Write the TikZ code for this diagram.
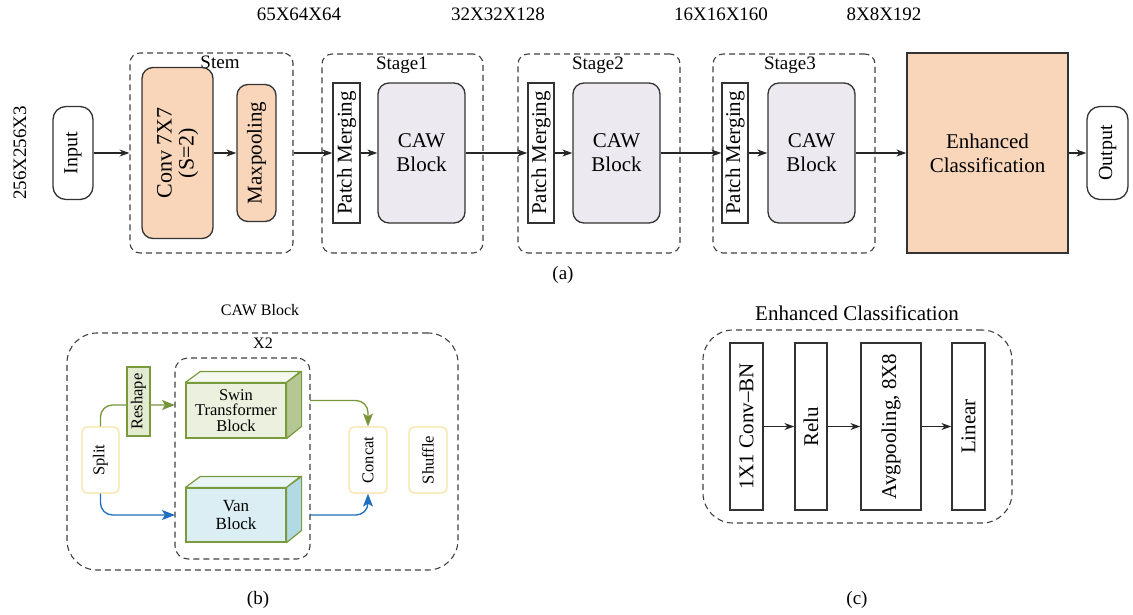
\documentclass[tikz,border=0pt]{standalone}
\usepackage{fontspec}
\setmainfont{Liberation Serif}
\usetikzlibrary{arrows.meta}
\definecolor{peach}{HTML}{F9D6BA}
\definecolor{lav}{HTML}{ECE9F1}
\definecolor{gborder}{HTML}{7A9A3E}
\definecolor{garrow}{HTML}{77963A}
\definecolor{barrow}{HTML}{1E6FBF}
\definecolor{swinfront}{HTML}{EBF1DE}
\definecolor{swintop}{HTML}{F4F8EE}
\definecolor{swinside}{HTML}{B5C793}
\definecolor{vanfront}{HTML}{DAEEF3}
\definecolor{vantop}{HTML}{EAF5F8}
\definecolor{vanside}{HTML}{B2DAE5}
\definecolor{ybord}{HTML}{F8E3A0}
\definecolor{reshfill}{HTML}{E3ECD1}
\begin{document}
\begin{tikzpicture}[x=1pt,y=-1pt,
  font=\fontsize{19}{22}\selectfont,
  bx/.style={draw=black!80, line width=1.3pt, inner sep=0pt, align=center, font=\fontsize{21}{24}\selectfont},
  rbx/.style={bx, rounded corners=11pt},
  grp/.style={draw=black!75, line width=1.1pt, dash pattern=on 6pt off 4pt, rounded corners=10pt, inner sep=0pt},
  arr/.style={-{Stealth[length=10pt,width=7pt]}, line width=1.1pt, draw=black!85},
  ybx/.style={draw=ybord, line width=1.2pt, fill=white, rounded corners=5pt, inner sep=0pt, font=\fontsize{16.5}{18}\selectfont},
  garr/.style={-{Stealth[length=13pt,width=10pt,inset=3pt]}, line width=1.3pt, draw=garrow, rounded corners=12pt},
  barr/.style={-{Stealth[length=13pt,width=10pt,inset=3pt]}, line width=1.3pt, draw=barrow, rounded corners=12pt},
  lbl/.style={inner sep=0pt}
]
\useasboundingbox (0,0) rectangle (1133,614);

% ---------- (a) ----------
\node[lbl] (dim0) at (20,153) {\rotatebox{90}{256X256X3}};
\node[lbl] (dim1) at (299,14) {65X64X64};
\node[lbl] (dim2) at (498,14) {32X32X128};
\node[lbl] (dim3) at (721,14) {16X16X160};
\node[lbl] (dim4) at (884,14) {8X8X192};

\node[rbx, rounded corners=13pt, minimum width=40pt, minimum height=93pt, font=\fontsize{20}{22}\selectfont] (input) at (73,153) {\rotatebox{90}{Input}};

\node[grp, minimum width=163pt, minimum height=200pt] (stem) at (211.5,153) {};
\node[lbl] (stemlbl) at (220,62) {Stem};
\node[rbx, fill=peach, minimum width=71pt, minimum height=171pt, font=\fontsize{22}{25}\selectfont] (conv) at (177.5,153) {\rotatebox{90}{\begin{tabular}{@{}c@{}}Conv 7X7\\[-3pt](S=2)\end{tabular}}};
\node[rbx, fill=peach, minimum width=39pt, minimum height=137pt] (maxp) at (256.5,153) {\rotatebox{90}{Maxpooling}};

\node[grp, minimum width=161pt, minimum height=199pt] (st1) at (402.5,153.5) {};
\node[lbl] (st1lbl) at (402,65) {Stage1};
\node[bx, minimum width=27pt, minimum height=140pt] (pm1) at (346.5,153) {\rotatebox{90}{Patch Merging}};
\node[rbx, fill=lav, minimum width=87pt, minimum height=140pt] (caw1) at (421.5,153) {CAW\\Block};

\node[grp, minimum width=162pt, minimum height=199pt] (st2) at (599,153.5) {};
\node[lbl] (st2lbl) at (598,65) {Stage2};
\node[bx, minimum width=26pt, minimum height=140pt] (pm2) at (541,153) {\rotatebox{90}{Patch Merging}};
\node[rbx, fill=lav, minimum width=87pt, minimum height=140pt] (caw2) at (616.5,153) {CAW\\Block};

\node[grp, minimum width=162pt, minimum height=199pt] (st3) at (794,153.5) {};
\node[lbl] (st3lbl) at (790,65) {Stage3};
\node[bx, minimum width=26pt, minimum height=140pt] (pm3) at (735,153) {\rotatebox{90}{Patch Merging}};
\node[rbx, fill=lav, minimum width=87pt, minimum height=140pt] (caw3) at (811.5,153) {CAW\\Block};

\node[bx, fill=peach, minimum width=161pt, minimum height=200pt] (enh) at (987.5,153) {Enhanced\\Classification};
\node[rbx, rounded corners=13pt, minimum width=41pt, minimum height=93pt, font=\fontsize{20}{22}\selectfont] (out) at (1107.5,153) {\rotatebox{90}{Output}};

\draw[arr] (input.east) -- (stem.west);
\draw[arr] (conv) -- (maxp);
\draw[arr] (stem.east) -- (pm1.west);
\draw[arr] (pm1) -- (caw1);
\draw[arr] (caw1) -- (pm2);
\draw[arr] (pm2) -- (caw2);
\draw[arr] (caw2) -- (pm3);
\draw[arr] (pm3) -- (caw3);
\draw[arr] (caw3) -- (enh);
\draw[arr] (enh) -- (out);

\node[lbl] (capa) at (563,275) {(a)};

% ---------- (b) ----------
\node[lbl, font=\fontsize{16}{18}\selectfont] (cawlbl) at (260,310) {CAW Block};
\node[grp, rounded corners=30pt, minimum width=391pt, minimum height=237pt] (outer) at (262.5,451.5) {};
\node[lbl, font=\fontsize{16}{18}\selectfont] (x2) at (263,343) {X2};
\node[grp, rounded corners=13pt, minimum width=135pt, minimum height=201pt] (inner) at (242.5,458.5) {};

\node[ybx, minimum width=37pt, minimum height=66pt] (split) at (100.5,460) {\rotatebox{90}{Split}};
\node[ybx, minimum width=38pt, minimum height=66pt] (concat) at (368,460) {\rotatebox{90}{Concat}};
\node[ybx, minimum width=38pt, minimum height=66pt] (shuffle) at (428,460) {\rotatebox{90}{Shuffle}};

\coordinate (gin) at (175,405);
\coordinate (bin) at (175,515);
\coordinate (gout) at (310,400.5);
\coordinate (bout) at (310,515);
\draw[garr] (split.north) |- (gin);
\draw[barr] (split.south) |- (bin);
\draw[garr] (gout) -| (concat.north);
\draw[barr] (bout) -| (concat.south);

\node[draw=gborder, fill=reshfill, line width=1.2pt, inner sep=0pt, minimum width=23pt, minimum height=69pt, font=\fontsize{16.5}{18}\selectfont] (resh) at (138.5,401.5) {\rotatebox{90}{Reshape}};

\node[draw=gborder, fill=swinfront, line width=1.2pt, inner sep=0pt, minimum width=100pt, minimum height=55pt, align=center, font=\fontsize{16.5}{15.5}\selectfont] (swin) at (236,410.5) {Swin\\Transformer\\Block};
\draw[draw=gborder, fill=swintop, line width=1.2pt, line join=round] (swin.north west) -- ++(15,-11) -- ++(100,0) -- (swin.north east) -- cycle;
\draw[draw=gborder, fill=swinside, line width=1.2pt, line join=round] (swin.north east) -- ++(15,-11) -- ++(0,55) -- (swin.south east) -- cycle;

\node[draw=gborder, fill=vanfront, line width=1.2pt, inner sep=0pt, minimum width=100pt, minimum height=54pt, align=center, font=\fontsize{17}{18.5}\selectfont] (van) at (236,515) {Van\\Block};
\draw[draw=gborder, fill=vantop, line width=1.2pt, line join=round] (van.north west) -- ++(15,-11) -- ++(100,0) -- (van.north east) -- cycle;
\draw[draw=gborder, fill=vanside, line width=1.2pt, line join=round] (van.north east) -- ++(15,-11) -- ++(0,54) -- (van.south east) -- cycle;

\node[lbl] (capb) at (258,600) {(b)};

% ---------- (c) ----------
\node[lbl, font=\fontsize{21}{24}\selectfont] (eclbl) at (857,313) {Enhanced Classification};
\node[grp, rounded corners=30pt, minimum width=309pt, minimum height=193pt] (ecbox) at (857.5,426.5) {};
\node[bx, minimum width=33pt, minimum height=167pt] (c1) at (746.5,426.5) {\rotatebox{90}{1X1 Conv--BN}};
\node[bx, minimum width=32pt, minimum height=167pt] (c2) at (811,426.5) {\rotatebox{90}{Relu}};
\node[bx, minimum width=60pt, minimum height=167pt] (c3) at (891,426.5) {\rotatebox{90}{Avgpooling, 8X8}};
\node[bx, minimum width=33pt, minimum height=167pt] (c4) at (968.5,426.5) {\rotatebox{90}{Linear}};
\draw[arr] (c1) -- (c2);
\draw[arr] (c2) -- (c3);
\draw[arr] (c3) -- (c4);

\node[lbl] (capc) at (857,600) {(c)};
\end{tikzpicture}
\end{document}
